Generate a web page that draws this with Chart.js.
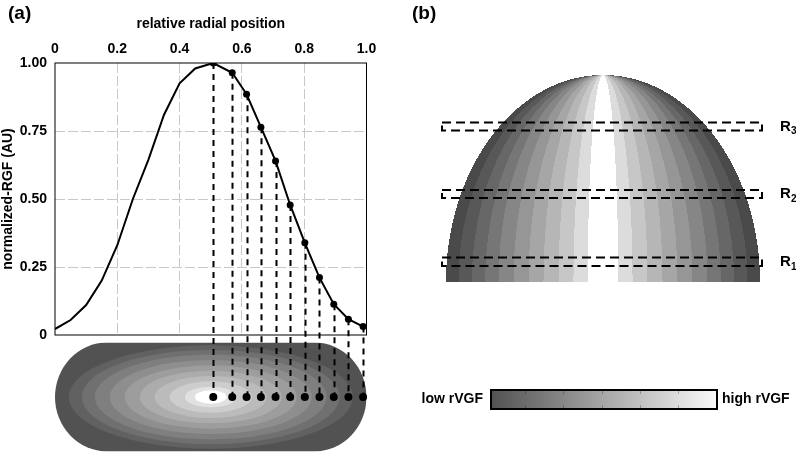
<!DOCTYPE html>
<html>
<head>
<meta charset="utf-8">
<script src="https://cdn.jsdelivr.net/npm/chart.js@4.4.0/dist/chart.umd.min.js"></script>
<style>
  body { margin: 0; background: #fff; }
  canvas { display: block; }
</style>
</head>
<body>
<canvas id="fig" width="796" height="454"></canvas>
<script>
// courbe RGF - partie gauche (sans marqueurs)
const leftX = [0, 0.05, 0.1, 0.15, 0.2, 0.25, 0.3, 0.35, 0.4, 0.45];
const leftY = [0.022, 0.055, 0.11, 0.2, 0.33, 0.5, 0.645, 0.81, 0.925, 0.98];
// partie droite, avec marqueurs et projections vers l'ellipse
const markX = [0.508, 0.569, 0.615, 0.661, 0.708, 0.755, 0.802, 0.849, 0.895, 0.942, 0.989];
const markY = [1.0, 0.964, 0.885, 0.764, 0.64, 0.478, 0.339, 0.211, 0.113, 0.058, 0.031];

const xTicks = ['0', '0.2', '0.4', '0.6', '0.8', '1.0'];
const yTicks = ['0', '0.25', '0.50', '0.75', '1.00'];

// anneaux de l'ellipse (rayon en unites de position radiale)
const ringR = [0.456, 0.414, 0.372, 0.324, 0.276, 0.228, 0.18, 0.132, 0.083, 0.051];
const ringGray = [97, 112, 127, 142, 157, 172, 187, 205, 225, 255];

// bandes du dome (b)
const domeEdges = [1.0, 0.92, 0.835, 0.75, 0.665, 0.57, 0.474, 0.379, 0.283, 0.188, 0.097, 0];
const domeGray = [74, 88, 103, 118, 134, 150, 166, 182, 199, 220, 255];

const regions = ['3', '2', '1'];

const FONT = '"Liberation Sans", Arial, sans-serif';
Chart.defaults.font.family = FONT;
Chart.defaults.font.size = 14;
Chart.defaults.font.weight = 'bold';
Chart.defaults.color = '#000';

const gris = g => 'rgb(' + g + ',' + g + ',' + g + ')';

const pts = leftX.map((x, i) => ({x: x, y: leftY[i]}))
  .concat(markX.map((x, i) => ({x: x, y: markY[i]})));
const radii = leftX.map(() => 0).concat(markX.map(() => 3.5));

const decor = {
  id: 'decor',
  afterDraw(chart) {
    const ctx = chart.ctx;
    const xs = chart.scales.x, ys = chart.scales.y;
    const a = chart.chartArea;
    ctx.save();

    // cadre du graphique
    ctx.strokeStyle = '#000';
    ctx.lineWidth = 1;
    ctx.setLineDash([]);
    ctx.strokeRect(a.left, a.top, a.right - a.left, a.bottom - a.top);

    // ellipse (a)
    const x0 = xs.getPixelForValue(0), x1 = xs.getPixelForValue(1);
    const cy = 397, hh = 54.5, cap = 52;
    ctx.beginPath();
    ctx.moveTo(x0 + cap, cy - hh);
    ctx.lineTo(x1 - cap, cy - hh);
    ctx.ellipse(x1 - cap, cy, cap, hh, 0, -Math.PI / 2, Math.PI / 2);
    ctx.lineTo(x0 + cap, cy + hh);
    ctx.ellipse(x0 + cap, cy, cap, hh, 0, Math.PI / 2, Math.PI * 1.5);
    ctx.closePath();
    ctx.save();
    ctx.clip();
    ctx.fillStyle = gris(82);
    ctx.fillRect(x0, cy - hh, x1 - x0, hh * 2);
    const cx = xs.getPixelForValue(0.5);
    ringR.forEach((r, i) => {
      const rx = xs.getPixelForValue(0.5 + r) - cx;
      ctx.beginPath();
      ctx.ellipse(cx, cy, rx, rx / 2.8 + 1, 0, 0, Math.PI * 2);
      ctx.fillStyle = gris(ringGray[i]);
      ctx.fill();
    });
    ctx.restore();

    // projections pointillees
    ctx.strokeStyle = '#000';
    ctx.lineWidth = 2;
    ctx.setLineDash([6, 5]);
    markX.forEach((x, i) => {
      const px = Math.round(xs.getPixelForValue(x)) + 0.5;
      ctx.beginPath();
      ctx.moveTo(px, ys.getPixelForValue(markY[i]));
      ctx.lineTo(px, cy);
      ctx.stroke();
    });
    ctx.setLineDash([]);
    ctx.fillStyle = '#000';
    markX.forEach(x => {
      ctx.beginPath();
      ctx.arc(xs.getPixelForValue(x), cy, 4, 0, Math.PI * 2);
      ctx.fill();
    });

    // dome (b)
    const dcx = 603, base = 282, da = 157, db = 207;
    for (let y = base - db; y < base; y++) {
      const t = (base - y - 0.5) / db;
      const hw = da * Math.sqrt(Math.max(0, 1 - t * t));
      for (let k = 0; k < domeGray.length; k++) {
        const o = domeEdges[k] * hw, n = domeEdges[k + 1] * hw;
        ctx.fillStyle = gris(domeGray[k]);
        ctx.fillRect(Math.round(dcx - o), y, Math.round(dcx - n) - Math.round(dcx - o), 1);
        ctx.fillRect(Math.round(dcx + n), y, Math.round(dcx + o) - Math.round(dcx + n), 1);
      }
    }

    // rectangles R3, R2, R1
    const boxes = [[122.5, 130.5], [190, 198], [257.5, 266]];
    ctx.strokeStyle = '#000';
    ctx.lineWidth = 2;
    ctx.setLineDash([9, 5]);
    boxes.forEach(b => {
      ctx.strokeRect(442, b[0], 320, b[1] - b[0]);
    });
    ctx.setLineDash([]);
    ctx.fillStyle = '#000';
    ctx.textBaseline = 'middle';
    ctx.textAlign = 'left';
    boxes.forEach((b, i) => {
      const ym = (b[0] + b[1]) / 2;
      ctx.font = 'bold 15px ' + FONT;
      ctx.fillText('R', 780, ym);
      ctx.font = 'bold 10px ' + FONT;
      ctx.fillText(regions[i], 791, ym + 5);
    });

    // barre de couleur
    const g = ctx.createLinearGradient(491, 0, 717, 0);
    g.addColorStop(0, gris(82));
    g.addColorStop(1, gris(250));
    ctx.fillStyle = g;
    ctx.fillRect(491, 390, 226, 19);
    ctx.strokeStyle = 'rgba(0,0,0,0.25)';
    ctx.lineWidth = 1;
    [525, 563, 602, 640, 678].forEach(x => {
      ctx.beginPath();
      ctx.moveTo(x + 0.5, 391); ctx.lineTo(x + 0.5, 394);
      ctx.moveTo(x + 0.5, 405); ctx.lineTo(x + 0.5, 408);
      ctx.stroke();
    });
    ctx.strokeStyle = '#000';
    ctx.lineWidth = 2;
    ctx.strokeRect(491, 390, 226, 19);
    ctx.fillStyle = '#000';
    ctx.font = 'bold 14px ' + FONT;
    ctx.textAlign = 'right';
    ctx.fillText('low rVGF', 483, 399);
    ctx.textAlign = 'left';
    ctx.fillText('high rVGF', 722, 399);

    // etiquettes des panneaux
    ctx.font = 'bold 19px ' + FONT;
    ctx.fillText('(a)', 8, 14);
    ctx.fillText('(b)', 412, 14);
    ctx.restore();
  }
};

const gridCol = c => (c.tick && (c.tick.value === 0 || c.tick.value === 1)) ? 'rgba(0,0,0,0)' : '#c8c8c8';

new Chart(document.getElementById('fig'), {
  type: 'line',
  data: {
    datasets: [{
      data: pts,
      borderColor: '#000',
      backgroundColor: '#000',
      borderWidth: 2,
      pointRadius: radii,
      pointBackgroundColor: '#000',
      pointBorderWidth: 0,
      tension: 0
    }]
  },
  options: {
    responsive: false,
    animation: false,
    devicePixelRatio: 1,
    layout: { padding: { left: 0, top: 0, right: 429.5, bottom: 119 } },
    plugins: { legend: { display: false }, tooltip: { enabled: false } },
    scales: {
      x: {
        type: 'linear',
        position: 'top',
        min: 0, max: 1,
        afterFit: s => { s.height = 63; },
        ticks: { stepSize: 0.2, padding: 5, callback: (v, i) => xTicks[i] },
        grid: { color: gridCol, drawTicks: false, lineWidth: 1 },
        border: { display: false, dash: [10, 3] },
        title: { display: true, text: 'relative radial position', padding: { top: 16, bottom: 0 } }
      },
      y: {
        type: 'linear',
        min: 0, max: 1,
        afterFit: s => { s.width = 55; },
        ticks: { stepSize: 0.25, padding: 8, callback: (v, i) => yTicks[i] },
        grid: { color: gridCol, drawTicks: false, lineWidth: 1 },
        border: { display: false, dash: [10, 3] },
        title: { display: true, text: 'normalized-RGF (AU)', padding: { top: 0, bottom: 0 } }
      }
    }
  },
  plugins: [decor]
});
</script>
</body>
</html>
